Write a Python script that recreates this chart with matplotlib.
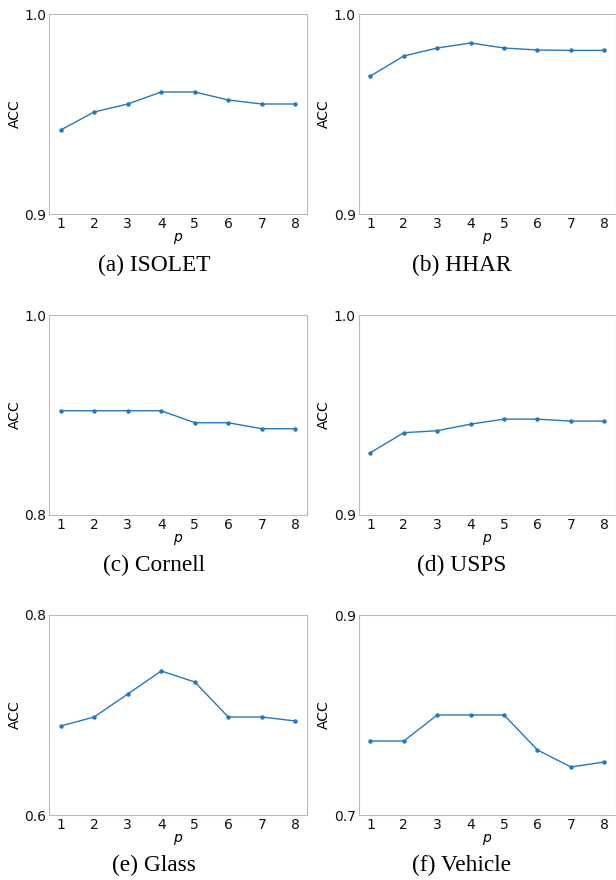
import matplotlib
matplotlib.use("Agg")
import matplotlib.pyplot as plt

p_values = [1, 2, 3, 4, 5, 6, 7, 8]

isolet_acc = [0.942, 0.951, 0.955, 0.961, 0.961, 0.957, 0.955, 0.955]
hhar_acc = [0.969, 0.979, 0.983, 0.9855, 0.983, 0.982, 0.9818, 0.9818]
cornell_acc = [0.904, 0.904, 0.904, 0.904, 0.892, 0.892, 0.886, 0.886]
usps_acc = [0.931, 0.941, 0.942, 0.9453, 0.9478, 0.9478, 0.9468, 0.9468]
glass_acc = [0.689, 0.698, 0.721, 0.744, 0.733, 0.698, 0.698, 0.694]
vehicle_acc = [0.774, 0.774, 0.800, 0.800, 0.800, 0.765, 0.748, 0.753]

captions = ["(a) ISOLET", "(b) HHAR", "(c) Cornell", "(d) USPS", "(e) Glass", "(f) Vehicle"]
series = [isolet_acc, hhar_acc, cornell_acc, usps_acc, glass_acc, vehicle_acc]
ylims = [(0.9, 1.0), (0.9, 1.0), (0.8, 1.0), (0.9, 1.0), (0.6, 0.8), (0.7, 0.9)]

W, H = 616, 880
fig = plt.figure(figsize=(W / 100, H / 100), dpi=100)

col_left = [49, 358.7]
col_right = [307, 616]
row_top = [14, 315, 615]
row_bot = [214, 514.5, 815]
cap_x = [154, 462]
cap_y = [265, 565, 865]

for i, (vals, cap, yl) in enumerate(zip(series, captions, ylims)):
    r, c = divmod(i, 2)
    l, rt = col_left[c], col_right[c]
    t, b = row_top[r], row_bot[r]
    ax = fig.add_axes([l / W, 1 - b / H, (rt - l) / W, (b - t) / H])
    ax.plot(p_values, vals, color="#2878b8", lw=1.0, marker="o", ms=2.2)
    ax.set_xlim(0.65, 8.35)
    ax.set_ylim(*yl)
    ax.set_yticks(list(yl))
    ax.set_yticklabels([f"{v:.1f}" for v in yl])
    ax.set_xticks(p_values)
    ax.tick_params(length=0, labelsize=10, colors="#111111")
    ax.tick_params(axis="x", pad=2.5)
    ax.tick_params(axis="y", pad=2)
    for s in ax.spines.values():
        s.set_color("#bbbbbb")
        s.set_linewidth(0.8)
    ax.set_ylabel("ACC", fontsize=10, labelpad=2)
    ax.set_xlabel("$p$", fontsize=10, labelpad=0)
    fig.text(cap_x[c] / W, 1 - cap_y[r] / H, cap, ha="center", va="center",
             fontsize=16.8, family="Liberation Serif")

fig.savefig("out.png", dpi=100)
